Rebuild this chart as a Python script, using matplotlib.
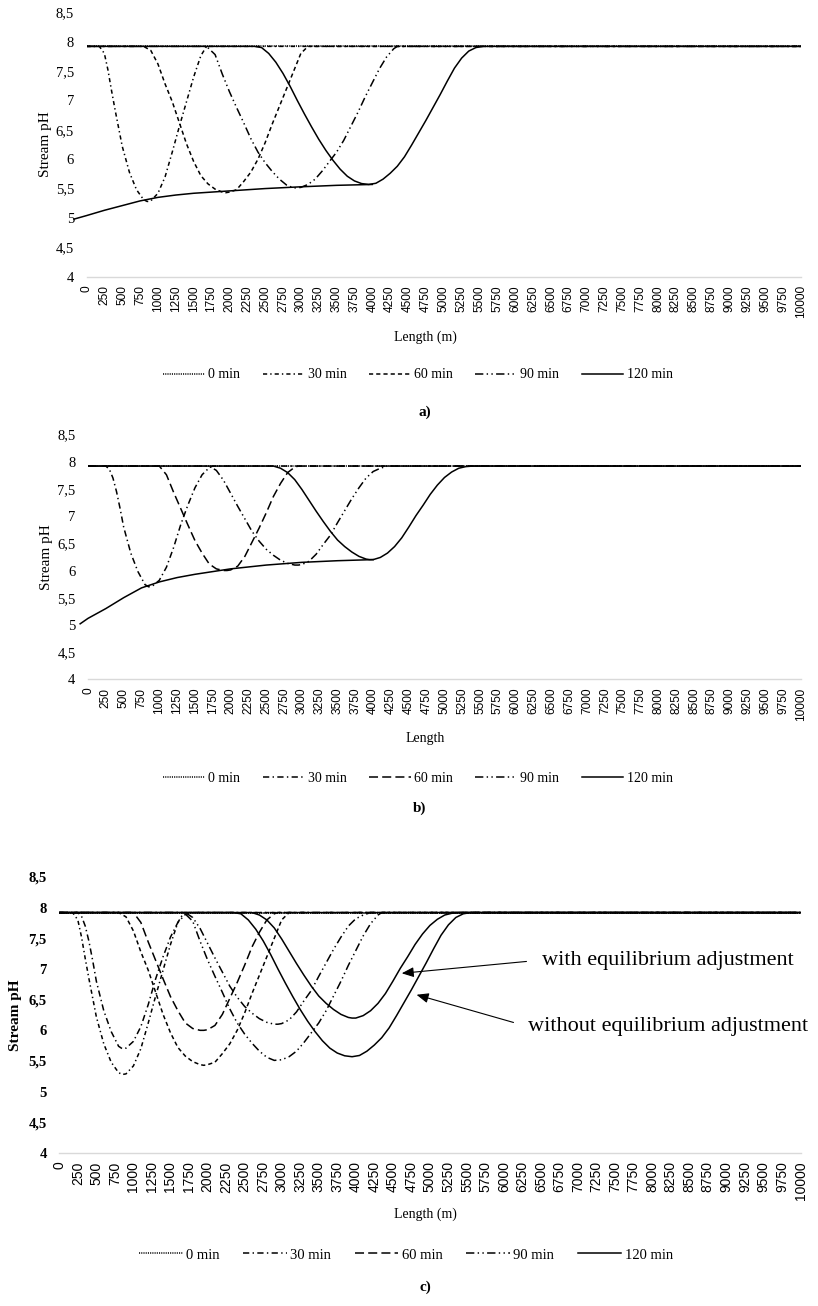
import matplotlib
matplotlib.use('Agg')
import matplotlib.pyplot as plt
from matplotlib.lines import Line2D

plt.rcParams['lines.scale_dashes'] = False
plt.rcParams['font.family'] = ['Liberation Serif', 'DejaVu Serif']

W, H = 818, 1306

# ---------------- common axis values ----------------
length_ticks = list(range(0, 10001, 250))
tick_labels = [str(v) for v in length_ticks]
ph_ticks = [4, 4.5, 5, 5.5, 6, 6.5, 7, 7.5, 8, 8.5]
ph_tick_labels = ['4', '4,5', '5', '5,5', '6', '6,5', '7', '7,5', '8', '8,5']
time_labels = ['0 min', '30 min', '60 min', '90 min', '120 min']

# ---------------- panel a: without equilibrium adjustment ----------------
a_x0 = [0, 10000]
a_ph0 = [7.92, 7.92]
a_x30 = [0, 180, 250, 300, 350, 400, 500, 600, 700, 800, 850, 900, 1000, 1100,
         1200, 1300, 1400, 1500, 1600, 1680, 10000]
a_ph30 = [7.92, 7.92, 7.80, 7.52, 7.17, 6.84, 6.22, 5.78, 5.48, 5.31, 5.28, 5.29,
          5.42, 5.70, 6.12, 6.56, 6.98, 7.40, 7.76, 7.92, 7.92]
a_x60 = [0, 800, 900, 1000, 1100, 1200, 1300, 1400, 1500, 1600, 1700, 1800, 1900,
         1950, 2000, 2100, 2200, 2300, 2400, 2500, 2600, 2700, 2800, 2900, 3000,
         3100, 10000]
a_ph60 = [7.92, 7.92, 7.85, 7.62, 7.28, 6.98, 6.62, 6.26, 5.96, 5.72, 5.58, 5.49,
          5.44, 5.43, 5.44, 5.48, 5.62, 5.78, 6.00, 6.28, 6.60, 6.90, 7.20, 7.50,
          7.80, 7.92, 7.92]
a_x90 = [0, 1680, 1800, 1900, 2000, 2100, 2200, 2300, 2400, 2500, 2600, 2700,
         2800, 2900, 3000, 3100, 3200, 3300, 3400, 3500, 3600, 3700, 3800, 3900,
         4000, 4100, 4200, 4300, 4350, 10000]
a_ph90 = [7.92, 7.92, 7.78, 7.45, 7.15, 6.88, 6.62, 6.35, 6.12, 5.94, 5.79, 5.66,
          5.56, 5.51, 5.52, 5.57, 5.66, 5.80, 5.96, 6.12, 6.32, 6.56, 6.80, 7.06,
          7.30, 7.54, 7.74, 7.88, 7.92, 7.92]
a_x120 = [0, 2350, 2450, 2550, 2650, 2750, 2850, 2950, 3050, 3150, 3250, 3350,
          3450, 3550, 3650, 3750, 3850, 3950, 4050, 4150, 4250, 4350, 4450, 4550,
          4650, 4750, 4850, 4950, 5050, 5150, 5250, 5350, 5450, 5550, 10000]
a_ph120 = [7.92, 7.92, 7.90, 7.80, 7.65, 7.46, 7.24, 7.00, 6.77, 6.55, 6.34, 6.15,
           5.98, 5.83, 5.71, 5.63, 5.585, 5.57, 5.59, 5.66, 5.76, 5.88, 6.04, 6.24,
           6.45, 6.66, 6.88, 7.10, 7.33, 7.55, 7.72, 7.84, 7.90, 7.92, 7.92]
a_env_x = [-175, 0, 250, 500, 750, 1000, 1250, 1500, 1750, 2000, 2500, 3000, 3500, 4000]
a_env_ph = [4.98, 5.04, 5.13, 5.21, 5.29, 5.35, 5.39, 5.42, 5.44, 5.46, 5.50, 5.53,
            5.555, 5.57]

# ---------------- panel b: with equilibrium adjustment ----------------
b_x0 = [0, 10000]
b_ph0 = [7.92, 7.92]
b_x30 = [0, 250, 300, 350, 400, 450, 500, 600, 700, 800, 850, 900, 1000, 1100,
         1200, 1300, 1400, 1500, 1600, 1700, 1750, 10000]
b_ph30 = [7.92, 7.92, 7.86, 7.70, 7.45, 7.14, 6.80, 6.32, 5.98, 5.74, 5.70, 5.71,
          5.82, 6.06, 6.42, 6.84, 7.20, 7.52, 7.76, 7.89, 7.92, 7.92]
b_x60 = [0, 1000, 1100, 1200, 1300, 1400, 1500, 1600, 1700, 1800, 1900, 1950,
         2000, 2100, 2200, 2300, 2400, 2500, 2600, 2700, 2800, 2900, 2950, 10000]
b_ph60 = [7.92, 7.92, 7.76, 7.44, 7.14, 6.84, 6.55, 6.32, 6.12, 6.03, 6.00, 6.00,
          6.01, 6.08, 6.26, 6.52, 6.78, 7.06, 7.36, 7.60, 7.80, 7.90, 7.92, 7.92]
b_x90 = [0, 1700, 1800, 1900, 2000, 2100, 2200, 2300, 2400, 2500, 2600, 2700,
         2800, 2900, 2950, 3000, 3100, 3200, 3300, 3400, 3500, 3600, 3700, 3800,
         3900, 4000, 4100, 4200, 10000]
b_ph90 = [7.92, 7.92, 7.84, 7.66, 7.42, 7.18, 6.95, 6.72, 6.54, 6.39, 6.28, 6.19,
          6.13, 6.10, 6.10, 6.11, 6.17, 6.30, 6.48, 6.65, 6.88, 7.10, 7.32, 7.52,
          7.70, 7.82, 7.88, 7.92, 7.92]
b_x120 = [0, 2600, 2700, 2800, 2900, 3000, 3100, 3200, 3300, 3400, 3500, 3600,
          3700, 3800, 3900, 3950, 4000, 4100, 4200, 4300, 4400, 4500, 4600, 4700,
          4800, 4900, 5000, 5100, 5200, 5300, 5400, 10000]
b_ph120 = [7.92, 7.92, 7.88, 7.80, 7.67, 7.49, 7.29, 7.09, 6.90, 6.72, 6.56, 6.44,
           6.34, 6.26, 6.21, 6.20, 6.20, 6.24, 6.32, 6.44, 6.60, 6.80, 7.01, 7.20,
           7.40, 7.57, 7.71, 7.81, 7.88, 7.91, 7.92, 7.92]
b_env_x = [-110, 0, 250, 500, 750, 1000, 1250, 1500, 1750, 2000, 2500, 3000, 3500, 4000]
b_env_ph = [5.02, 5.12, 5.30, 5.50, 5.68, 5.79, 5.87, 5.93, 5.98, 6.03, 6.10, 6.15,
            6.18, 6.20]

series_a = [(a_x0, a_ph0), (a_x30, a_ph30), (a_x60, a_ph60), (a_x90, a_ph90), (a_x120, a_ph120)]
series_b = [(b_x0, b_ph0), (b_x30, b_ph30), (b_x60, b_ph60), (b_x90, b_ph90), (b_x120, b_ph120)]

# line styles (points)
styles_a = [(0, (0.8, 0.8)), (0, (3.0, 2.2, 1.0, 2.2)), (0, (3.0, 2.2)),
            (0, (6.0, 2.4, 1.0, 2.4, 1.0, 2.4)), '-']
styles_b = [(0, (0.8, 0.8)), (0, (4.5, 2.4, 1.0, 2.4)), (0, (6.5, 3.0)),
            (0, (6.0, 2.4, 1.0, 2.4, 1.0, 2.4)), '-']
LW = 1.1

fig = plt.figure(figsize=(W / 100, H / 100), dpi=100)


def box(l, t, r, b):
    return [l / W, 1 - b / H, (r - l) / W, (b - t) / H]


def fx(x):
    return x / W


def fy(y):
    return 1 - y / H


def setup(ax, bold, xfs):
    ax.set_xlim(0, 10000)
    ax.set_ylim(4, 8.5)
    ax.set_xticks(length_ticks)
    ax.set_xticklabels(tick_labels, rotation=90, family='Liberation Sans', fontsize=xfs)
    ax.set_yticks(ph_ticks)
    ax.set_yticklabels(ph_tick_labels, fontsize=10.5,
                       fontweight='bold' if bold else 'normal')
    ax.tick_params(axis='both', length=0)
    ax.tick_params(axis='x', pad=6)
    ax.tick_params(axis='y', pad=9)
    for s in ['top', 'right', 'left']:
        ax.spines[s].set_visible(False)
    ax.spines['bottom'].set_color('#d9d9d9')
    ax.spines['bottom'].set_linewidth(1.0)
    ax.patch.set_alpha(0)


def draw(ax, series, styles):
    for (x, y), ls in zip(series, styles):
        ax.plot(x, y, color='black', lw=LW, linestyle=ls, solid_capstyle='butt')


def legend(handles_styles, cx, cy, fs):
    handles = [Line2D([], [], color='black', lw=LW, linestyle=ls) for ls in handles_styles]
    fig.legend(handles, time_labels, loc='center', bbox_to_anchor=(fx(cx), fy(cy)),
               ncol=5, frameon=False, handlelength=3.0, handletextpad=0.25,
               columnspacing=1.6, fontsize=fs, borderpad=0, borderaxespad=0)


# ---------------- panel a ----------------
ax_a = fig.add_axes(box(86.5, 12.3, 801, 276.7))
setup(ax_a, False, 8.6)
draw(ax_a, series_a, styles_a)
ax_a.plot(a_env_x, a_env_ph, color='black', lw=LW, clip_on=False)
fig.text(fx(45), fy(144), 'Stream pH', rotation=90, ha='center', va='center', fontsize=11)
fig.text(fx(425), fy(337), 'Length (m)', ha='center', va='center', fontsize=10)
legend(styles_a, 418, 375, 10)
fig.text(fx(425), fy(412), 'a)', ha='center', va='center', fontsize=11, fontweight='bold')

# ---------------- panel b ----------------
ax_b = fig.add_axes(box(88, 434.5, 801, 679.3))
setup(ax_b, False, 8.6)
draw(ax_b, series_b, styles_b)
ax_b.plot(b_env_x, b_env_ph, color='black', lw=LW, clip_on=False)
fig.text(fx(46.7), fy(556.7), 'Stream pH', rotation=90, ha='center', va='center', fontsize=11)
fig.text(fx(425), fy(738), 'Length', ha='center', va='center', fontsize=10)
legend(styles_b, 418, 778, 10)
fig.text(fx(420), fy(808), 'b)', ha='center', va='center', fontsize=11, fontweight='bold')

# ---------------- panel c ----------------
ax_c = fig.add_axes(box(59.3, 877, 800.5, 1153))
setup(ax_c, True, 10)
draw(ax_c, series_a, styles_a)
draw(ax_c, series_b, styles_b)
fig.text(fx(15), fy(1015), 'Stream pH', rotation=90, ha='center', va='center',
         fontsize=11, fontweight='bold')
fig.text(fx(425), fy(1214), 'Length (m)', ha='center', va='center', fontsize=10)
legend(styles_b, 406, 1255, 10.5)
fig.text(fx(425), fy(1287), 'c)', ha='center', va='center', fontsize=11, fontweight='bold')

arrow = dict(arrowstyle='-|>,head_length=0.6,head_width=0.25', color='black',
             lw=0.8, mutation_scale=12, shrinkA=9, shrinkB=0, relpos=(0, 0.5))
ax_c.annotate('with equilibrium adjustment', xy=(4620, 6.93), xycoords='data',
              xytext=(fx(541.7), fy(960)), textcoords='figure fraction',
              ha='left', va='center', fontsize=16, arrowprops=arrow)
ax_c.annotate('without equilibrium adjustment', xy=(4820, 6.58), xycoords='data',
              xytext=(fx(528.3), fy(1026.7)), textcoords='figure fraction',
              ha='left', va='center', fontsize=16, arrowprops=arrow)

fig.savefig('out.png', dpi=100)
